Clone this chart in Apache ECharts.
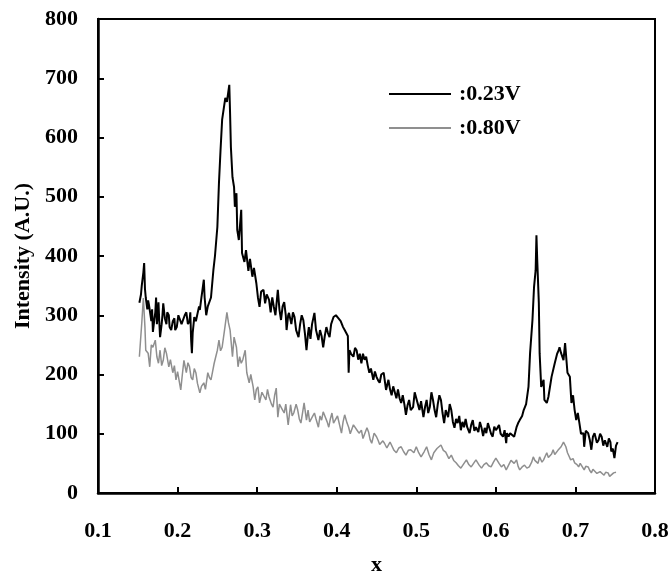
<!DOCTYPE html>
<html>
<head>
<meta charset="utf-8">
<script src="https://cdn.jsdelivr.net/npm/echarts@6/dist/echarts.min.js"></script>
<style>
  html, body { margin: 0; padding: 0; background: #fff; }
  #main { width: 668px; height: 577px; }
</style>
</head>
<body>
<div id="main"></div>
<script>
// [x, intensity]
const low = [[0.152,321],[0.154,335],[0.155,350],[0.157,372],[0.158,388],[0.159,345],[0.160,330],[0.162,310],[0.163,325],[0.164,318],[0.166,300],[0.167,290],[0.168,310],[0.169,272],[0.171,295],[0.172,305],[0.173,330],[0.174,285],[0.175,300],[0.176,322],[0.177,290],[0.178,263],[0.180,285],[0.181,300],[0.182,320],[0.184,295],[0.186,285],[0.187,305],[0.189,300],[0.190,280],[0.192,275],[0.194,290],[0.196,295],[0.197,275],[0.199,280],[0.201,300],[0.203,298],[0.205,285],[0.207,283],[0.209,300],[0.211,305],[0.213,285],[0.215,290],[0.216,305],[0.217,260],[0.218,236],[0.219,270],[0.221,297],[0.223,290],[0.225,292],[0.227,315],[0.228,309],[0.230,330],[0.231,340],[0.233,360],[0.234,330],[0.236,300],[0.238,315],[0.240,312],[0.242,330],[0.245,376],[0.247,400],[0.250,449],[0.252,523],[0.254,579],[0.256,630],[0.260,667],[0.262,660],[0.265,689],[0.266,640],[0.267,584],[0.269,533],[0.271,516],[0.272,483],[0.274,506],[0.275,444],[0.277,427],[0.280,478],[0.281,405],[0.284,390],[0.286,410],[0.289,375],[0.291,395],[0.294,365],[0.296,380],[0.299,354],[0.301,330],[0.303,314],[0.305,340],[0.308,343],[0.310,320],[0.312,335],[0.315,326],[0.317,305],[0.319,330],[0.321,314],[0.323,300],[0.326,343],[0.328,310],[0.330,292],[0.332,315],[0.334,322],[0.336,300],[0.337,275],[0.339,300],[0.340,304],[0.343,285],[0.345,305],[0.347,297],[0.349,275],[0.352,263],[0.354,285],[0.356,300],[0.358,292],[0.360,270],[0.362,241],[0.364,270],[0.365,280],[0.367,260],[0.369,285],[0.372,304],[0.374,275],[0.377,258],[0.379,275],[0.381,265],[0.383,246],[0.385,265],[0.387,280],[0.389,270],[0.391,263],[0.393,285],[0.396,297],[0.399,300],[0.402,295],[0.405,290],[0.408,280],[0.410,275],[0.412,270],[0.414,265],[0.415,203],[0.416,241],[0.418,235],[0.421,230],[0.423,245],[0.425,241],[0.427,225],[0.429,235],[0.431,219],[0.433,235],[0.435,225],[0.437,230],[0.439,215],[0.441,203],[0.443,210],[0.446,191],[0.448,205],[0.450,196],[0.452,190],[0.454,186],[0.456,200],[0.459,203],[0.462,174],[0.465,191],[0.467,175],[0.469,165],[0.471,180],[0.473,170],[0.475,160],[0.477,175],[0.479,160],[0.481,152],[0.483,165],[0.485,150],[0.487,132],[0.489,148],[0.491,157],[0.493,140],[0.496,145],[0.498,170],[0.500,160],[0.502,150],[0.504,140],[0.506,155],[0.509,128],[0.511,145],[0.513,157],[0.515,135],[0.517,145],[0.519,170],[0.521,157],[0.523,140],[0.525,128],[0.527,150],[0.529,165],[0.531,157],[0.533,135],[0.535,118],[0.537,140],[0.540,128],[0.542,150],[0.544,140],[0.546,120],[0.548,110],[0.550,125],[0.552,118],[0.554,130],[0.556,106],[0.558,120],[0.560,111],[0.562,125],[0.564,111],[0.567,101],[0.569,115],[0.571,123],[0.573,105],[0.575,111],[0.578,103],[0.580,120],[0.582,110],[0.584,96],[0.586,110],[0.588,101],[0.590,118],[0.592,115],[0.594,100],[0.596,95],[0.598,112],[0.600,106],[0.602,110],[0.604,115],[0.606,100],[0.609,95],[0.611,106],[0.613,84],[0.614,101],[0.616,95],[0.618,101],[0.620,101],[0.623,95],[0.626,111],[0.628,118],[0.630,123],[0.633,130],[0.635,140],[0.638,150],[0.641,179],[0.643,236],[0.646,292],[0.648,348],[0.650,376],[0.651,435],[0.652,393],[0.654,321],[0.655,236],[0.657,179],[0.660,191],[0.661,157],[0.664,152],[0.666,162],[0.670,196],[0.674,219],[0.677,235],[0.679,241],[0.680,246],[0.682,236],[0.685,224],[0.687,253],[0.690,203],[0.693,196],[0.695,152],[0.697,165],[0.699,140],[0.701,123],[0.703,135],[0.705,118],[0.707,100],[0.710,101],[0.711,78],[0.713,105],[0.716,101],[0.718,90],[0.720,73],[0.722,95],[0.724,101],[0.727,85],[0.729,89],[0.731,100],[0.733,95],[0.735,80],[0.737,89],[0.740,78],[0.742,92],[0.744,86],[0.745,70],[0.747,75],[0.749,59],[0.751,80],[0.753,86]];

const high = [[0.152,230],[0.155,287],[0.157,329],[0.159,280],[0.160,241],[0.163,236],[0.165,213],[0.167,250],[0.169,246],[0.172,258],[0.174,230],[0.176,219],[0.178,241],[0.180,215],[0.182,224],[0.184,245],[0.186,236],[0.189,213],[0.191,225],[0.194,203],[0.196,215],[0.198,191],[0.200,205],[0.202,203],[0.204,174],[0.206,200],[0.208,224],[0.211,203],[0.213,220],[0.215,213],[0.217,195],[0.219,191],[0.221,210],[0.223,203],[0.225,185],[0.228,169],[0.230,180],[0.233,186],[0.235,175],[0.238,203],[0.240,195],[0.242,191],[0.244,205],[0.246,219],[0.248,230],[0.250,241],[0.252,258],[0.254,240],[0.256,246],[0.259,275],[0.262,305],[0.264,287],[0.266,275],[0.269,230],[0.271,263],[0.274,246],[0.276,213],[0.278,230],[0.280,219],[0.282,225],[0.284,236],[0.285,241],[0.287,203],[0.290,186],[0.292,200],[0.295,179],[0.297,157],[0.299,175],[0.301,179],[0.303,152],[0.306,170],[0.308,169],[0.311,157],[0.313,175],[0.315,162],[0.318,150],[0.320,145],[0.322,165],[0.324,177],[0.326,128],[0.328,150],[0.330,152],[0.332,140],[0.334,135],[0.336,150],[0.339,115],[0.342,149],[0.344,130],[0.346,135],[0.349,150],[0.351,140],[0.353,125],[0.355,118],[0.357,135],[0.359,152],[0.362,123],[0.364,140],[0.366,120],[0.368,120],[0.370,130],[0.372,135],[0.374,125],[0.377,111],[0.379,130],[0.381,123],[0.383,137],[0.385,137],[0.388,120],[0.390,111],[0.392,125],[0.394,135],[0.396,118],[0.398,120],[0.401,130],[0.403,128],[0.406,101],[0.408,120],[0.410,132],[0.413,118],[0.415,111],[0.417,100],[0.419,103],[0.421,115],[0.423,118],[0.426,105],[0.428,101],[0.431,106],[0.433,92],[0.435,95],[0.438,110],[0.440,103],[0.442,90],[0.444,84],[0.447,101],[0.450,95],[0.452,89],[0.454,82],[0.456,80],[0.458,88],[0.460,84],[0.463,76],[0.465,78],[0.467,86],[0.469,84],[0.472,72],[0.475,68],[0.478,76],[0.481,78],[0.484,70],[0.487,64],[0.490,72],[0.493,73],[0.497,68],[0.500,78],[0.503,68],[0.506,61],[0.510,70],[0.513,78],[0.516,65],[0.519,56],[0.522,68],[0.526,75],[0.531,81],[0.534,72],[0.537,69],[0.541,58],[0.544,64],[0.547,55],[0.550,51],[0.553,46],[0.556,42],[0.560,50],[0.563,56],[0.566,48],[0.569,44],[0.572,50],[0.575,56],[0.579,47],[0.582,42],[0.585,48],[0.588,51],[0.591,46],[0.594,44],[0.597,52],[0.600,59],[0.604,50],[0.607,44],[0.610,48],[0.613,39],[0.616,47],[0.619,55],[0.623,50],[0.626,56],[0.628,45],[0.630,39],[0.633,44],[0.636,47],[0.639,42],[0.642,44],[0.645,52],[0.647,61],[0.649,55],[0.651,56],[0.653,50],[0.655,61],[0.658,52],[0.660,56],[0.662,62],[0.664,68],[0.666,60],[0.667,59],[0.670,66],[0.672,73],[0.674,65],[0.676,68],[0.678,72],[0.680,73],[0.682,78],[0.685,86],[0.686,89],[0.688,78],[0.690,68],[0.692,62],[0.694,56],[0.697,58],[0.699,51],[0.702,48],[0.704,44],[0.706,50],[0.708,47],[0.711,39],[0.713,45],[0.716,44],[0.718,38],[0.720,34],[0.722,40],[0.724,39],[0.727,33],[0.729,30],[0.731,36],[0.733,35],[0.736,30],[0.738,35],[0.741,34],[0.743,28],[0.745,30],[0.748,34],[0.751,35]];

const seriesNames = [':0.23V', ':0.80V'];
const seriesColors = ['#000000', '#8f8f8f'];
const xTicks = [0.1, 0.8, 0.1];   // min, max, step
const yTicks = [0, 800, 100];

const FONT = '"Liberation Serif", "Times New Roman", serif';
const chart = echarts.init(document.getElementById('main'));

const option = {
  backgroundColor: '#fff',
  animation: false,
  grid: {
    left: 98, right: 13, top: 19, bottom: 84,
    outerBoundsMode: 'none',
    show: true, borderColor: '#000', borderWidth: 2
  },
  legend: {
    orient: 'vertical',
    left: 384,
    top: 78,
    itemWidth: 62,
    itemHeight: 2,
    itemGap: 12,
    textStyle: {
      fontFamily: FONT, fontWeight: 'bold', fontSize: 22, color: '#000',
      lineHeight: 22, padding: [0, 0, 0, 3]
    },
    data: seriesNames.map((n, i) => ({ name: n, icon: 'rect', itemStyle: { color: seriesColors[i] } }))
  },
  xAxis: {
    type: 'value',
    min: xTicks[0], max: xTicks[1], interval: xTicks[2],
    name: 'x',
    nameLocation: 'middle',
    nameGap: 61,
    nameTextStyle: { fontFamily: FONT, fontWeight: 'bold', fontSize: 22, color: '#000' },
    axisLine: { lineStyle: { color: '#000', width: 2.5 } },
    axisTick: { inside: true, length: 6, lineStyle: { color: '#000', width: 2 } },
    axisLabel: {
      margin: 27,
      fontFamily: FONT, fontWeight: 'bold', fontSize: 22, color: '#000',
      formatter: v => v.toFixed(1)
    },
    splitLine: { show: false }
  },
  yAxis: {
    type: 'value',
    min: yTicks[0], max: yTicks[1], interval: yTicks[2],
    name: 'Intensity (A.U.)',
    nameLocation: 'middle',
    nameGap: 61,
    nameTextStyle: { fontFamily: FONT, fontWeight: 'bold', fontSize: 22, color: '#000' },
    axisLine: { lineStyle: { color: '#000', width: 2.5 } },
    axisTick: { inside: true, length: 6, lineStyle: { color: '#000', width: 2 } },
    axisLabel: {
      margin: 20,
      fontFamily: FONT, fontWeight: 'bold', fontSize: 22, color: '#000'
    },
    splitLine: { show: false }
  },
  series: [
    {
      name: seriesNames[0],
      type: 'line',
      symbol: 'none',
      data: low,
      lineStyle: { color: seriesColors[0], width: 2 },
      itemStyle: { color: seriesColors[0] }
    },
    {
      name: seriesNames[1],
      type: 'line',
      symbol: 'none',
      data: high,
      lineStyle: { color: seriesColors[1], width: 1.5 },
      itemStyle: { color: seriesColors[1] }
    }
  ]
};

chart.setOption(option);
</script>
</body>
</html>
